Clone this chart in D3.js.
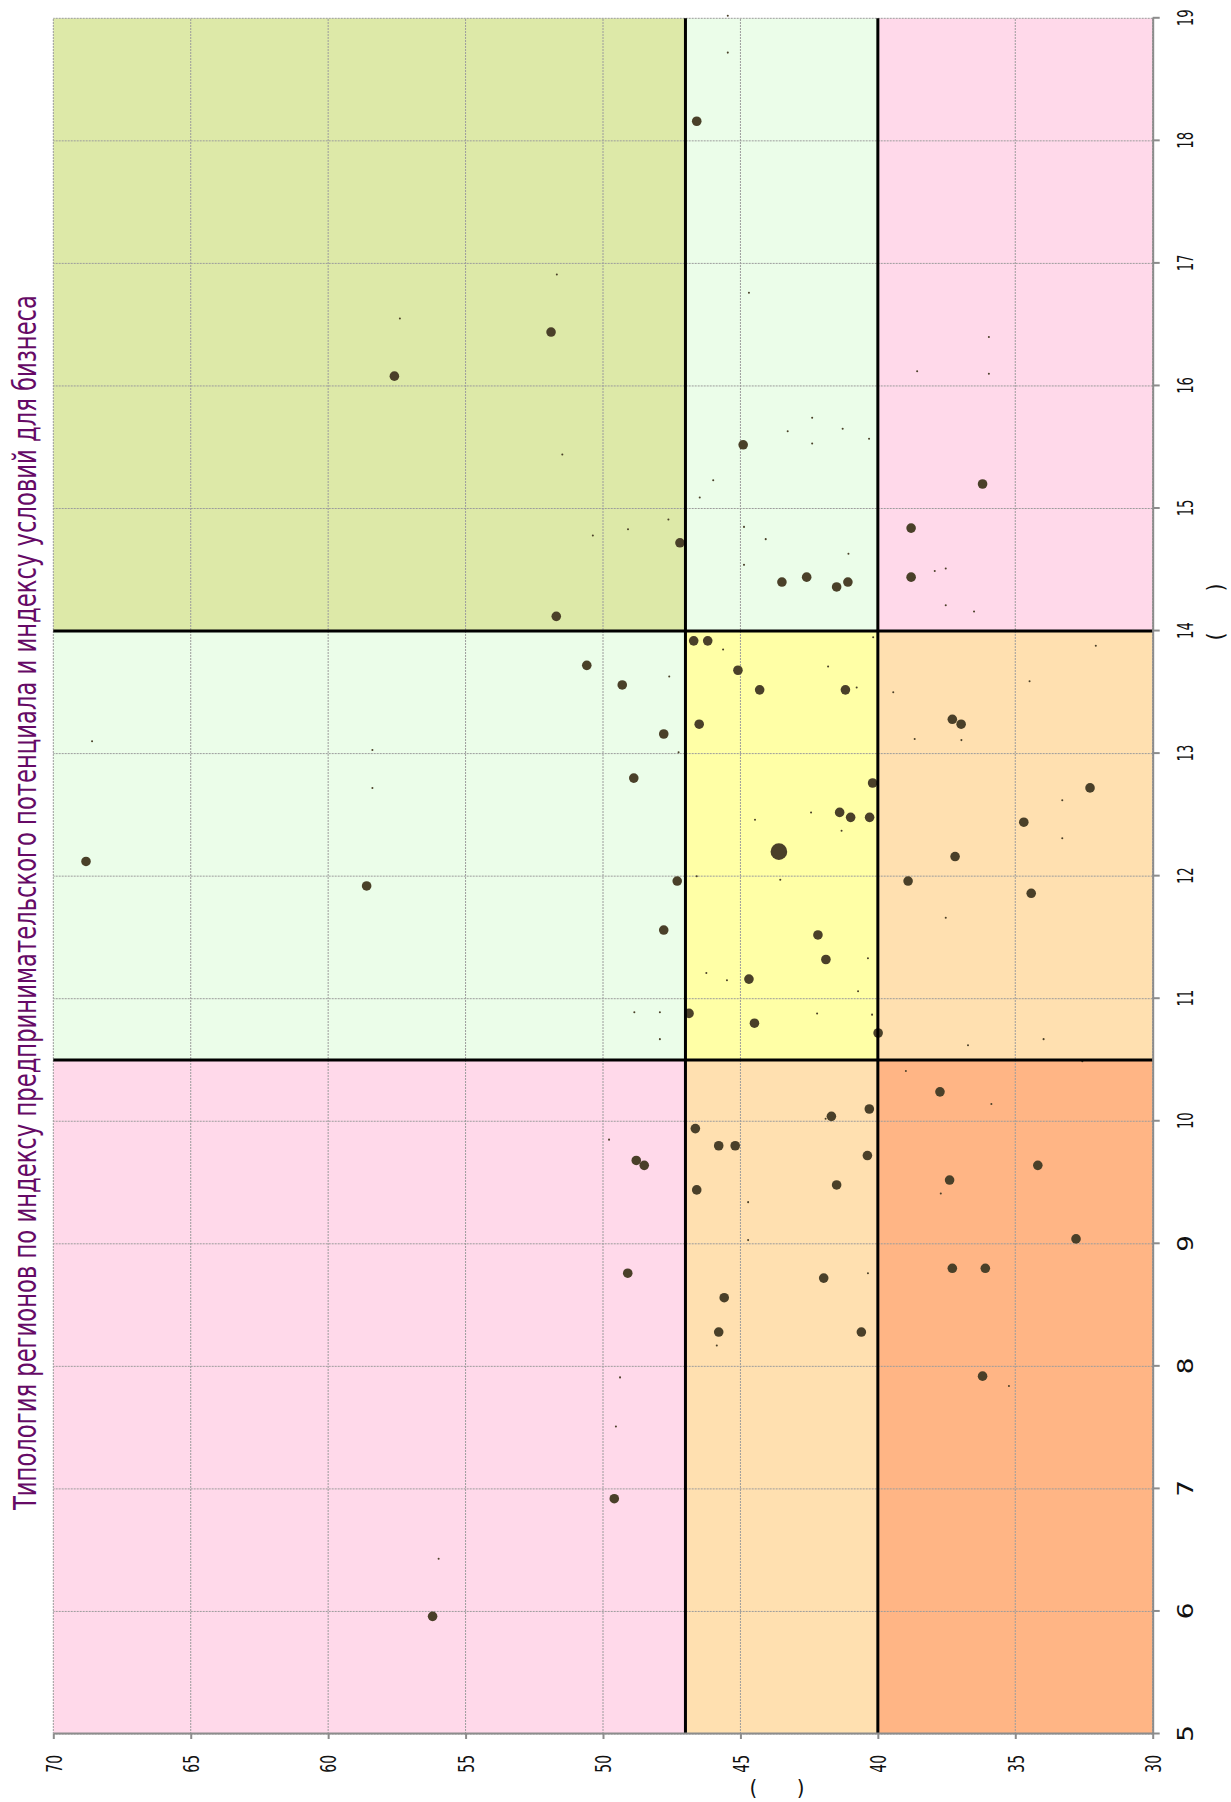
<!DOCTYPE html>
<html>
<head>
<meta charset="utf-8">
<script src="https://cdn.jsdelivr.net/npm/d3@7"></script>
<style>
  body { margin: 0; background: #fff; }
  svg { display: block; }
</style>
</head>
<body>
<div id="chart"></div>
<script>
// values (x: 5..19, y: 30..70)
var indexX = [16.08, 16.55, 19.02, 18.72, 18.16, 16.91, 16.44, 16.76, 15.74, 15.63,
  15.53, 15.52, 16.40, 16.12, 16.10, 15.65, 15.57, 13.10, 12.12, 13.03,
  12.72, 11.92, 15.44, 15.23, 15.09, 14.91, 14.83, 14.78, 14.72, 14.85,
  14.75, 14.54, 14.40, 14.44, 14.12, 13.92, 13.92, 13.85, 13.68, 13.52,
  13.72, 13.56, 13.63, 13.24, 13.16, 13.01, 12.80, 12.46, 12.52, 12.20,
  12.00, 11.97, 11.96, 15.20, 14.84, 14.63, 14.36, 14.40, 14.44, 14.49,
  14.51, 14.21, 14.16, 13.95, 13.71, 13.52, 13.54, 13.50, 13.59, 13.88,
  13.28, 13.24, 13.12, 13.11, 12.76, 12.72, 12.62, 12.52, 12.48, 12.48,
  12.37, 12.44, 12.31, 12.16, 11.96, 11.86, 11.56, 11.21, 11.15, 11.16,
  11.52, 10.89, 10.89, 10.67, 10.88, 10.80, 10.88, 9.85, 9.68, 9.64,
  8.76, 9.94, 9.80, 9.80, 9.44, 9.34, 9.03, 8.72, 8.56, 8.28,
  8.17, 11.32, 11.33, 11.06, 10.87, 10.72, 11.66, 10.62, 10.67, 10.49,
  10.41, 10.24, 10.14, 10.10, 10.04, 10.02, 9.72, 9.48, 9.52, 9.41,
  9.64, 9.04, 8.80, 8.80, 8.76, 8.28, 7.91, 7.51, 6.92, 6.43,
  5.96, 7.92, 7.84];
var indexY = [57.59, 57.39, 45.46, 45.46, 46.59, 51.68, 51.89, 44.69, 42.39, 43.28,
  42.39, 44.90, 35.96, 38.57, 35.96, 41.28, 40.32, 68.59, 68.81, 58.39,
  58.39, 58.60, 51.48, 45.99, 46.48, 47.62, 49.09, 50.37, 47.20, 44.87,
  44.08, 44.87, 43.49, 42.59, 51.70, 46.70, 46.19, 45.63, 45.09, 44.30,
  50.59, 49.30, 47.59, 46.50, 47.79, 47.25, 48.88, 44.47, 42.43, 43.60,
  46.59, 43.55, 47.30, 36.19, 38.79, 41.07, 41.50, 41.09, 38.79, 37.93,
  37.53, 37.53, 36.50, 40.17, 41.81, 41.18, 40.77, 39.44, 34.48, 32.07,
  37.29, 36.97, 38.66, 36.96, 40.19, 32.28, 33.29, 41.39, 40.99, 40.30,
  41.32, 34.69, 33.29, 37.19, 38.90, 34.42, 47.79, 46.24, 45.49, 44.69,
  42.18, 48.86, 47.93, 47.93, 46.87, 44.49, 42.21, 49.78, 48.79, 48.50,
  49.10, 46.64, 45.79, 45.19, 46.59, 44.72, 44.72, 41.97, 45.59, 45.79,
  45.86, 41.89, 40.36, 40.72, 40.21, 39.99, 37.53, 36.72, 33.97, 32.56,
  38.98, 37.74, 35.87, 40.31, 41.69, 41.90, 40.38, 41.50, 37.39, 37.71,
  34.18, 32.79, 37.29, 36.09, 40.36, 40.60, 49.38, 49.53, 49.59, 55.98,
  56.20, 36.19, 35.23];
// bubble weight: 0.045 small dot, 1 normal, 3 big
var weight = [1, 0.045, 0.045, 0.045, 1, 0.045, 1, 0.045, 0.045, 0.045,
  0.045, 1, 0.045, 0.045, 0.045, 0.045, 0.045, 0.045, 1, 0.045,
  0.045, 1, 0.045, 0.045, 0.045, 0.045, 0.045, 0.045, 1, 0.045,
  0.045, 0.045, 1, 1, 1, 1, 1, 0.045, 1, 1,
  1, 1, 0.045, 1, 1, 0.045, 1, 0.045, 0.045, 3,
  0.045, 0.045, 1, 1, 1, 0.045, 1, 1, 1, 0.045,
  0.045, 0.045, 0.045, 0.045, 0.045, 1, 0.045, 0.045, 0.045, 0.045,
  1, 1, 0.045, 0.045, 1, 1, 0.045, 1, 1, 1,
  0.045, 1, 0.045, 1, 1, 1, 1, 0.045, 0.045, 1,
  1, 0.045, 0.045, 0.045, 1, 1, 0.045, 0.045, 1, 1,
  1, 1, 1, 1, 1, 0.045, 0.045, 1, 1, 1,
  0.045, 1, 0.045, 0.045, 0.045, 1, 0.045, 0.045, 0.045, 0.045,
  0.045, 1, 0.045, 1, 1, 0.045, 1, 1, 1, 0.045,
  1, 1, 1, 1, 0.045, 1, 0.045, 0.045, 1, 0.045,
  1, 1, 0.045];

var xCuts = [10.5, 14];
var yCuts = [40, 47];
var xTicks = d3.range(5, 20);
var yTicks = [30, 35, 40, 45, 50, 55, 60, 65, 70];
// zone colours, rows = y band (low..high), cols = x band (low..high)
var zoneColors = [
  ["#ffb585", "#ffe0b0", "#ffd9ea"],
  ["#ffe0b0", "#ffffa6", "#ebfde9"],
  ["#ffd9ea", "#ebfde9", "#dde9a8"]
];
var title = "Типология регионов по индексу предпринимательского потенциала и индексу условий для бизнеса";
var xTitle = "(\u00a0\u00a0\u00a0\u00a0\u00a0\u00a0)";
var yTitle = "(\u00a0\u00a0\u00a0\u00a0\u00a0\u00a0)";

var svgWidth = 1231, svgHeight = 1802;
var font = "'Liberation Sans Narrow', 'DejaVu Sans Condensed', 'Liberation Sans', sans-serif";

var svg = d3.select("#chart")
  .append("svg")
    .attr("width", svgWidth)
    .attr("height", svgHeight);

// the whole chart is laid out normally, then turned a quarter to the left
var W = svgHeight, H = svgWidth;
var margin = {top: 53.3, right: 18.3, bottom: 78.3, left: 68};

var g = svg.append("g")
  .attr("transform", "translate(0," + svgHeight + ") rotate(-90)");

var x = d3.scaleLinear().domain([5, 19]).range([margin.left, W - margin.right]);
var y = d3.scaleLinear().domain([30, 70]).range([H - margin.bottom, margin.top]);
var r = d3.scaleSqrt().domain([0, 1]).range([0, 4.8]);

var xb = [5].concat(xCuts, [19]);
var yb = [30].concat(yCuts, [70]);

// coloured zones
for (var i = 0; i < 3; i++) {
  for (var j = 0; j < 3; j++) {
    g.append("rect")
      .attr("x", x(xb[j]))
      .attr("y", y(yb[i + 1]))
      .attr("width", x(xb[j + 1]) - x(xb[j]))
      .attr("height", y(yb[i]) - y(yb[i + 1]))
      .attr("fill", zoneColors[i][j]);
  }
}

// grid
g.selectAll(".gx").data(xTicks).enter().append("line")
  .attr("x1", function(d) { return x(d); })
  .attr("x2", function(d) { return x(d); })
  .attr("y1", y(30)).attr("y2", y(70))
  .attr("stroke", "#9c9c9c").attr("stroke-width", 1).attr("stroke-dasharray", "2,1");
g.selectAll(".gy").data(yTicks).enter().append("line")
  .attr("y1", function(d) { return y(d); })
  .attr("y2", function(d) { return y(d); })
  .attr("x1", x(5)).attr("x2", x(19))
  .attr("stroke", "#9c9c9c").attr("stroke-width", 1).attr("stroke-dasharray", "2,1");

// points
g.selectAll("circle").data(d3.range(indexX.length)).enter().append("circle")
  .attr("cx", function(i) { return x(indexX[i]); })
  .attr("cy", function(i) { return y(indexY[i]); })
  .attr("r", function(i) { return r(weight[i]); })
  .attr("fill", "#4a4029");

// black dividing lines
g.selectAll(".cx").data(xCuts).enter().append("line")
  .attr("x1", function(d) { return x(d); })
  .attr("x2", function(d) { return x(d); })
  .attr("y1", y(30)).attr("y2", y(70))
  .attr("stroke", "#000").attr("stroke-width", 3);
g.selectAll(".cy").data(yCuts).enter().append("line")
  .attr("y1", function(d) { return y(d); })
  .attr("y2", function(d) { return y(d); })
  .attr("x1", x(5)).attr("x2", x(19))
  .attr("stroke", "#000").attr("stroke-width", 3);

// axes
var xAxis = g.append("g")
  .attr("transform", "translate(0," + y(30) + ")")
  .call(d3.axisBottom(x).tickValues(xTicks).tickSize(7).tickSizeOuter(0).tickFormat(d3.format("d")));
xAxis.selectAll("text")
  .attr("y", 40.6).attr("dy", 0)
  .attr("textLength", 16.7).attr("lengthAdjust", "spacingAndGlyphs");

var yAxis = g.append("g")
  .attr("transform", "translate(" + x(5) + ",0)")
  .call(d3.axisLeft(y).tickValues(yTicks).tickSize(5).tickSizeOuter(0).tickFormat(d3.format("d")));
yAxis.selectAll("text")
  .attr("x", -21).attr("dy", 7.8)
  .attr("textLength", 17.7).attr("lengthAdjust", "spacingAndGlyphs");

g.selectAll(".domain, .tick line").attr("stroke", "#8c8c8c").attr("stroke-width", 2);
g.selectAll(".tick text").attr("fill", "#111").attr("font-size", 22).attr("font-family", font);

// titles
g.append("text")
  .attr("x", 292).attr("y", 35.5)
  .attr("font-family", font).attr("font-size", 32)
  .attr("fill", "#660a66")
  .attr("textLength", 1215).attr("lengthAdjust", "spacingAndGlyphs")
  .text(title);

g.append("text")
  .attr("x", 1190).attr("y", 1223.5)
  .attr("text-anchor", "middle")
  .attr("font-family", font).attr("font-size", 23).attr("fill", "#111")
  .attr("textLength", 57).attr("lengthAdjust", "spacing")
  .text(xTitle);

g.append("text")
  .attr("transform", "translate(20.5,777) rotate(-90)")
  .attr("text-anchor", "middle")
  .attr("font-family", font).attr("font-size", 22).attr("fill", "#111")
  .attr("textLength", 55).attr("lengthAdjust", "spacing")
  .text(yTitle);
</script>
</body>
</html>
